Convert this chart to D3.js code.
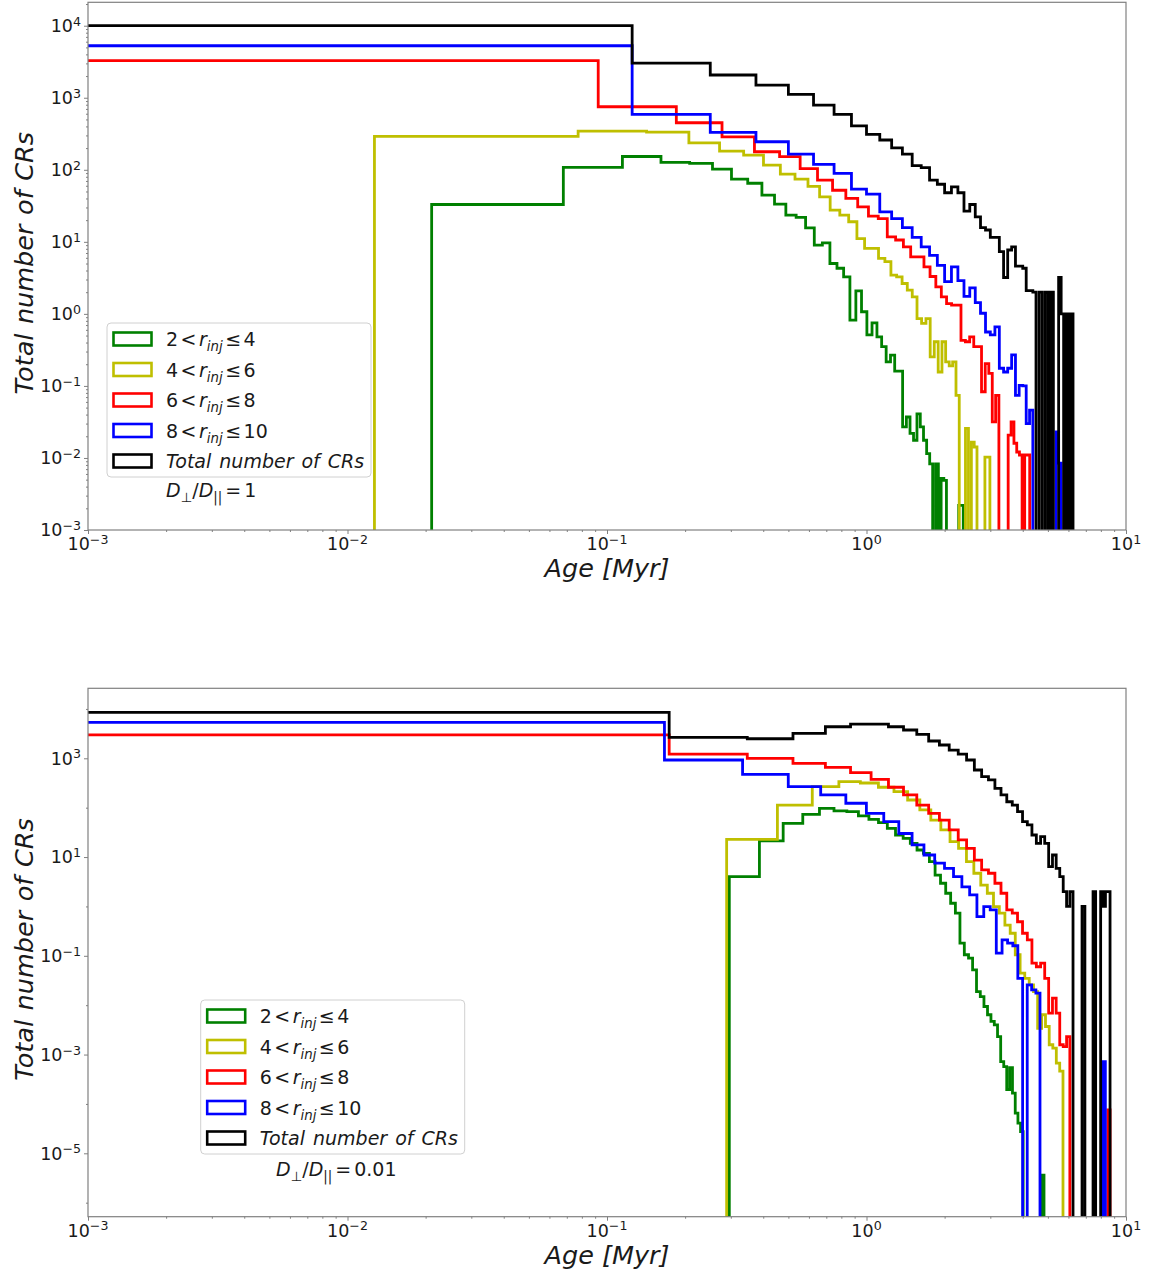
<!DOCTYPE html>
<html><head><meta charset="utf-8">
<script src="https://cdn.jsdelivr.net/npm/d3@7"></script>
<style>
body{margin:0;background:#fff;}
svg text{font-family:"DejaVu Sans","Liberation Sans",sans-serif;fill:#1a1a1a;}
</style></head><body>
<svg id="chart" width="1152" height="1277"></svg>
<script>
// ================= DATA =================
const xTickExps = [-3, -2, -1, 0, 1];
const topYTickExps = [-3, -2, -1, 0, 1, 2, 3, 4];
const botYTickExps = [-5, -3, -1, 1, 3];
const legendLow = [2, 4, 6, 8];
const legendHigh = [4, 6, 8, 10];
const totalLabel = "Total number of CRs";
const xLabel = "Age [Myr]";
const topRatio = "1";
const botRatio = "0.01";

// Histogram bins: [first edge (Myr), bin width (Myr)] and counts per bin
// ---- top panel (D_perp/D_par = 1)
const topGreenBins = [0.0211, 0.04678];
const topGreen = [33, 108, 153, 127, 123, 102, 74, 65, 44.6, 33.4,
  23.5, 21.8, 15.6, 9, 9.7, 5, 4.3, 3.27, 0.82, 2.09,
  1.07, 0.51, 0.75, 0.48, 0.35, 0.215, 0.267, 0.16, 0.16, 0.027,
  0.037, 0.022, 0.0176, 0.041, 0.027, 0.0176, 0.0115, 0.0083, 0, 0.0083,
  0, 0.0052, 0.0049, 0, 0, 0, 0, 0, 0.0022, 0.0022];
const topYellowBins = [0.0127, 0.0647];
const topYellow = [291, 344, 334, 237, 182, 160, 116, 87, 74, 59,
  42, 27.5, 23.5, 19, 11.1, 8.1, 8.1, 5.9, 5.3, 3.46,
  3.27, 2.64, 2.13, 1.72, 0.86, 0.74, 0.86, 0.253, 0.41, 0.156,
  0.41, 0.215, 0.19, 0.215, 0.074, 0, 0, 0.0257, 0, 0.0166,
  0.0142, 0, 0, 0, 0.0103, 0.0103];
const topRedBins = [0, 0.0925];
const topRed = [3270, 750, 450, 287, 178, 152, 104, 72, 52, 40,
  30.6, 22.7, 21, 11.7, 10.6, 8.5, 6.2, 6.2, 4.5, 3.3,
  2.37, 1.72, 1.39, 1.32, 1.32, 0.43, 0.41, 0.48, 0.35, 0.35,
  0.083, 0.204, 0.149, 0.0316, 0.074, 0, 0, 0, 0.0207, 0.0316,
  0.016, 0.0121, 0.011, 0, 0.011, 0.011];
const topBlueBins = [0, 0.125];
const topBlue = [5270, 588, 330, 245, 165, 119, 89, 54, 46, 26,
  21, 15.7, 11.5, 8.5, 6.5, 4.7, 2.8, 4.5, 2.9, 1.75,
  2.3, 1.43, 1.02, 0.56, 0.51, 0.66, 0.176, 0.156, 0.176, 0.27,
  0.074, 0.102, 0.1, 0.03, 0.046, 0, 0, 0, 0, 0,
  0, 0, 0, 0.023, 0.0085, 0, 0, 0, 0, 0];
const topBlackBins = [0, 0.125];
const topBlack = [10000, 3030, 2070, 1500, 1115, 792, 588, 408, 310, 259,
  202, 165, 114, 107, 72, 63, 48, 58, 48, 26.7,
  33, 22.2, 15.7, 14.6, 11.5, 11.5, 7.3, 3.2, 7.7, 8.5,
  4.6, 4.6, 4.3, 2.1, 2.1, 2, 0, 2, 0, 2,
  0, 2, 0, 0, 3.2, 1, 0, 1, 0, 1];
// ---- bottom panel (D_perp/D_par = 0.01)
const botGreenBins = [0.296, 0.0907];
const botGreen = [4.0, 21.2, 48, 73, 97, 86, 83, 68, 58, 50,
  38, 28, 24, 19, 13.9, 11.9, 8.1, 4.3, 2.95, 1.85,
  1.16, 0.73, 0.18, 0.105, 0.09, 0.052, 0.0188, 0.0149, 0.0094, 0.0064,
  0.0047, 0.004, 0.0023, 0.00072, 0.00057, 0.000195, 0.00054, 0.000166, 0.000065, 0.000041,
  0.0000275, 0, 0, 0, 0, 0, 0, 0, 0, 0.0000036];
const botYellowBins = [0.2891, 0.1645];
const botYellow = [22.9, 113, 266, 336, 316, 259, 211, 143, 90, 56,
  35.4, 20.5, 15, 8.1, 4.7, 2.7, 1.85, 0.99, 0.73, 0.42,
  0.286, 0.105, 0.0445, 0.035, 0.0257, 0.0188, 0.0034, 0.0064, 0.0037, 0.00158,
  0.00135, 0.00067, 0.00046];
const botRedBins = [0, 0.1736];
const botRed = [2970, 1220, 1000, 792, 657, 512, 376, 259, 181, 113,
  77, 56, 35.4, 22.2, 15, 8.7, 5.5, 4.7, 2.95, 1.85,
  0.85, 0.73, 0.49, 0.286, 0.21, 0.071, 0.06, 0.071, 0.035, 0.0069,
  0.0139, 0.0069, 0.00158, 0.00145, 0.0023, 0, 0, 0, 0, 0,
  0, 0, 0, 0, 0, 0, 0, 0, 0, 0.000076];
const botBlueBins = [0, 0.1665];
const botBlue = [5360, 924, 474, 266, 181, 123, 77, 52, 30, 17.6,
  11, 7.5, 5.9, 4.0, 2.5, 1.71, 0.62, 0.99, 0.85, 0.113,
  0.21, 0.18, 0.16, 0.035, 0, 0.0257, 0.0204, 0.0175, 0, 0,
  0, 0, 0, 0, 0, 0, 0, 0, 0, 0,
  0, 0, 0, 0, 0, 0, 0, 0, 0, 0.00072];
const botBlackBins = [0, 0.1736];
const botBlack = [8530, 2660, 2490, 3200, 4360, 4940, 4940, 4360, 3740, 3060,
  2240, 1860, 1470, 1220, 924, 580, 424, 364, 247, 181,
  132, 113, 83, 52, 45, 28, 19, 25.9, 19, 6.4,
  11, 5.9, 4.0, 2.0, 1.0, 2.0, 0, 0, 0, 1,
  0, 0, 0, 2, 0, 0, 2, 1, 2, 2];

// ================= STYLE / LAYOUT =================
const COLORS = ["#008000", "#bfbf00", "#ff0000", "#0000ff", "#000000"];
const SPINE = "#808080";
const LW = 2.8;
const TICK_FS = 17.5, LAB_FS = 25.5, LEG_FS = 19;

const svg = d3.select("#chart");
const x = d3.scaleLog().domain([1e-3, 10]).range([88, 1126]);

function pow10Text(sel, e, fs) {
  sel.append("tspan").text("10");
  sel.append("tspan").attr("dy", -0.36 * fs).attr("font-size", fs * 0.72)
    .text(e < 0 ? "\u2212" + (-e) : String(e));
}

function stepPath(y, bins, counts, yFloor) {
  const [start, width] = bins;
  const ex = v => v > 0 ? x(v) : x.range()[0] - 60;
  const ey = c => c > 0 ? y(c) : yFloor;
  const n = counts.length;
  const pts = [[ex(start), yFloor]];
  counts.forEach((c, i) => {
    pts.push([ex(start + i * width), ey(c)]);
    pts.push([ex(start + (i + 1) * width), ey(c)]);
  });
  pts.push([ex(start + n * width), yFloor]);
  return d3.line()(pts);
}

function drawPanel(cfg) {
  const {id, top, bottom, yDomain, yExps, yMinorVals, series, legend, ratio} = cfg;
  const y = d3.scaleLog().domain(yDomain).range([bottom, top]);
  const g = svg.append("g");
  const left = x.range()[0], right = x.range()[1];

  g.append("clipPath").attr("id", "clip" + id).append("rect")
    .attr("x", left).attr("y", top).attr("width", right - left).attr("height", bottom - top);

  // histograms
  const pg = g.append("g").attr("clip-path", `url(#clip${id})`);
  series.forEach((s, i) => {
    pg.append("path").attr("d", stepPath(y, s.bins, s.counts, bottom + 40))
      .attr("fill", "none").attr("stroke", COLORS[i]).attr("stroke-width", LW)
      .attr("stroke-linejoin", "miter");
  });

  // frame
  g.append("rect").attr("x", left).attr("y", top).attr("width", right - left).attr("height", bottom - top)
    .attr("fill", "none").attr("stroke", SPINE).attr("stroke-width", 1.2);

  // x axis ticks
  const xMaj = xTickExps.map(e => Math.pow(10, e));
  const xMin = [];
  xTickExps.slice(0, -1).forEach(e => { for (let k = 2; k <= 9; k++) xMin.push(k * Math.pow(10, e)); });
  const axX = g.append("g").attr("transform", `translate(0,${bottom})`);
  axX.call(d3.axisBottom(x).tickValues(xMaj).tickSize(4).tickFormat(() => ""));
  const axXm = g.append("g").attr("transform", `translate(0,${bottom})`);
  axXm.call(d3.axisBottom(x).tickValues(xMin).tickSize(2).tickFormat(() => ""));
  xTickExps.forEach(e => {
    const t = g.append("text").attr("x", x(Math.pow(10, e))).attr("y", bottom + 20)
      .attr("text-anchor", "middle").attr("font-size", TICK_FS);
    pow10Text(t, e, TICK_FS);
  });

  // y axis ticks
  const axY = g.append("g").attr("transform", `translate(${left},0)`);
  axY.call(d3.axisLeft(y).tickValues(yExps.map(e => Math.pow(10, e))).tickSize(4).tickFormat(() => ""));
  const axYm = g.append("g").attr("transform", `translate(${left},0)`);
  axYm.call(d3.axisLeft(y).tickValues(yMinorVals).tickSize(2).tickFormat(() => ""));
  yExps.forEach(e => {
    const t = g.append("text").attr("x", left - 7).attr("y", y(Math.pow(10, e)) + 6.3)
      .attr("text-anchor", "end").attr("font-size", TICK_FS);
    pow10Text(t, e, TICK_FS);
  });
  [axX, axXm, axY, axYm].forEach(a => {
    a.select(".domain").remove();
    a.selectAll("line").attr("stroke", SPINE).attr("stroke-width", 1);
  });

  // axis labels
  g.append("text").attr("x", (left + right) / 2).attr("y", bottom + 47)
    .attr("text-anchor", "middle").attr("font-size", LAB_FS).attr("font-style", "italic")
    .text(xLabel);
  g.append("text").attr("transform", `translate(33,${(top + bottom) / 2 - 3}) rotate(-90)`)
    .attr("text-anchor", "middle").attr("font-size", LAB_FS).attr("font-style", "italic")
    .attr("word-spacing", 1.5).text(totalLabel);

  // legend
  const L = legend;
  g.append("rect").attr("x", L.x).attr("y", L.y).attr("width", 264).attr("height", 154)
    .attr("rx", 4).attr("fill", "#fff").attr("fill-opacity", 0.8)
    .attr("stroke", "#d0d0d0").attr("stroke-width", 1);
  const rowH = 30.5;
  COLORS.forEach((c, i) => {
    const cy = L.y + 16 + i * rowH;
    g.append("rect").attr("x", L.x + 6.5).attr("y", cy - 6.5).attr("width", 38).attr("height", 13)
      .attr("fill", "#fff").attr("stroke", c).attr("stroke-width", 2.6);
    const t = g.append("text").attr("x", L.x + 59).attr("y", cy + 7)
      .attr("font-size", LEG_FS);
    if (i < 4) {
      t.append("tspan").text(`${legendLow[i]}`);
      t.append("tspan").attr("dx", 2.5).text("<");
      t.append("tspan").attr("dx", 2.5).attr("font-style", "italic").text("r");
      t.append("tspan").attr("font-style", "italic").attr("font-size", LEG_FS * 0.7)
        .attr("dy", LEG_FS * 0.27).text("inj");
      t.append("tspan").attr("dy", -LEG_FS * 0.27).attr("dx", 2.5).text("\u2264");
      t.append("tspan").attr("dx", 2.5).text(`${legendHigh[i]}`);
    } else {
      t.append("tspan").attr("font-style", "italic").attr("word-spacing", 2).text(totalLabel);
    }
  });
  // ratio annotation
  const r = g.append("text").attr("x", ratio.x).attr("y", ratio.y)
    .attr("font-size", LEG_FS);
  r.append("tspan").attr("font-style", "italic").text("D");
  r.append("tspan").attr("font-size", LEG_FS * 0.7).attr("dy", LEG_FS * 0.27).text("\u22A5");
  r.append("tspan").attr("dy", -LEG_FS * 0.27).text("/");
  r.append("tspan").attr("font-style", "italic").text("D");
  r.append("tspan").attr("font-style", "italic").attr("font-size", LEG_FS * 0.7).attr("dy", LEG_FS * 0.27).text("||");
  r.append("tspan").attr("dy", -LEG_FS * 0.27).attr("dx", 3).text("=");
  r.append("tspan").attr("dx", 3).text(ratio.text);
}

const topMinor = [];
topYTickExps.forEach(e => { for (let k = 2; k <= 9; k++) topMinor.push(k * Math.pow(10, e)); });
const botMinor = [-6, -4, -2, 0, 2, 4].map(e => Math.pow(10, e));

drawPanel({
  id: "top", top: 2.3, bottom: 530, yDomain: [1e-3, 21130], yExps: topYTickExps,
  yMinorVals: topMinor.filter(v => v < 21130),
  series: [
    {bins: topGreenBins, counts: topGreen},
    {bins: topYellowBins, counts: topYellow},
    {bins: topRedBins, counts: topRed},
    {bins: topBlueBins, counts: topBlue},
    {bins: topBlackBins, counts: topBlack}
  ],
  legend: {x: 107, y: 323},
  ratio: {x: 166, y: 497, text: topRatio}
});
drawPanel({
  id: "bot", top: 688.3, bottom: 1216.7, yDomain: [5.2e-7, 26170], yExps: botYTickExps,
  yMinorVals: botMinor,
  series: [
    {bins: botGreenBins, counts: botGreen},
    {bins: botYellowBins, counts: botYellow},
    {bins: botRedBins, counts: botRed},
    {bins: botBlueBins, counts: botBlue},
    {bins: botBlackBins, counts: botBlack}
  ],
  legend: {x: 200.7, y: 1000},
  ratio: {x: 276, y: 1176, text: botRatio}
});
</script>
</body></html>
